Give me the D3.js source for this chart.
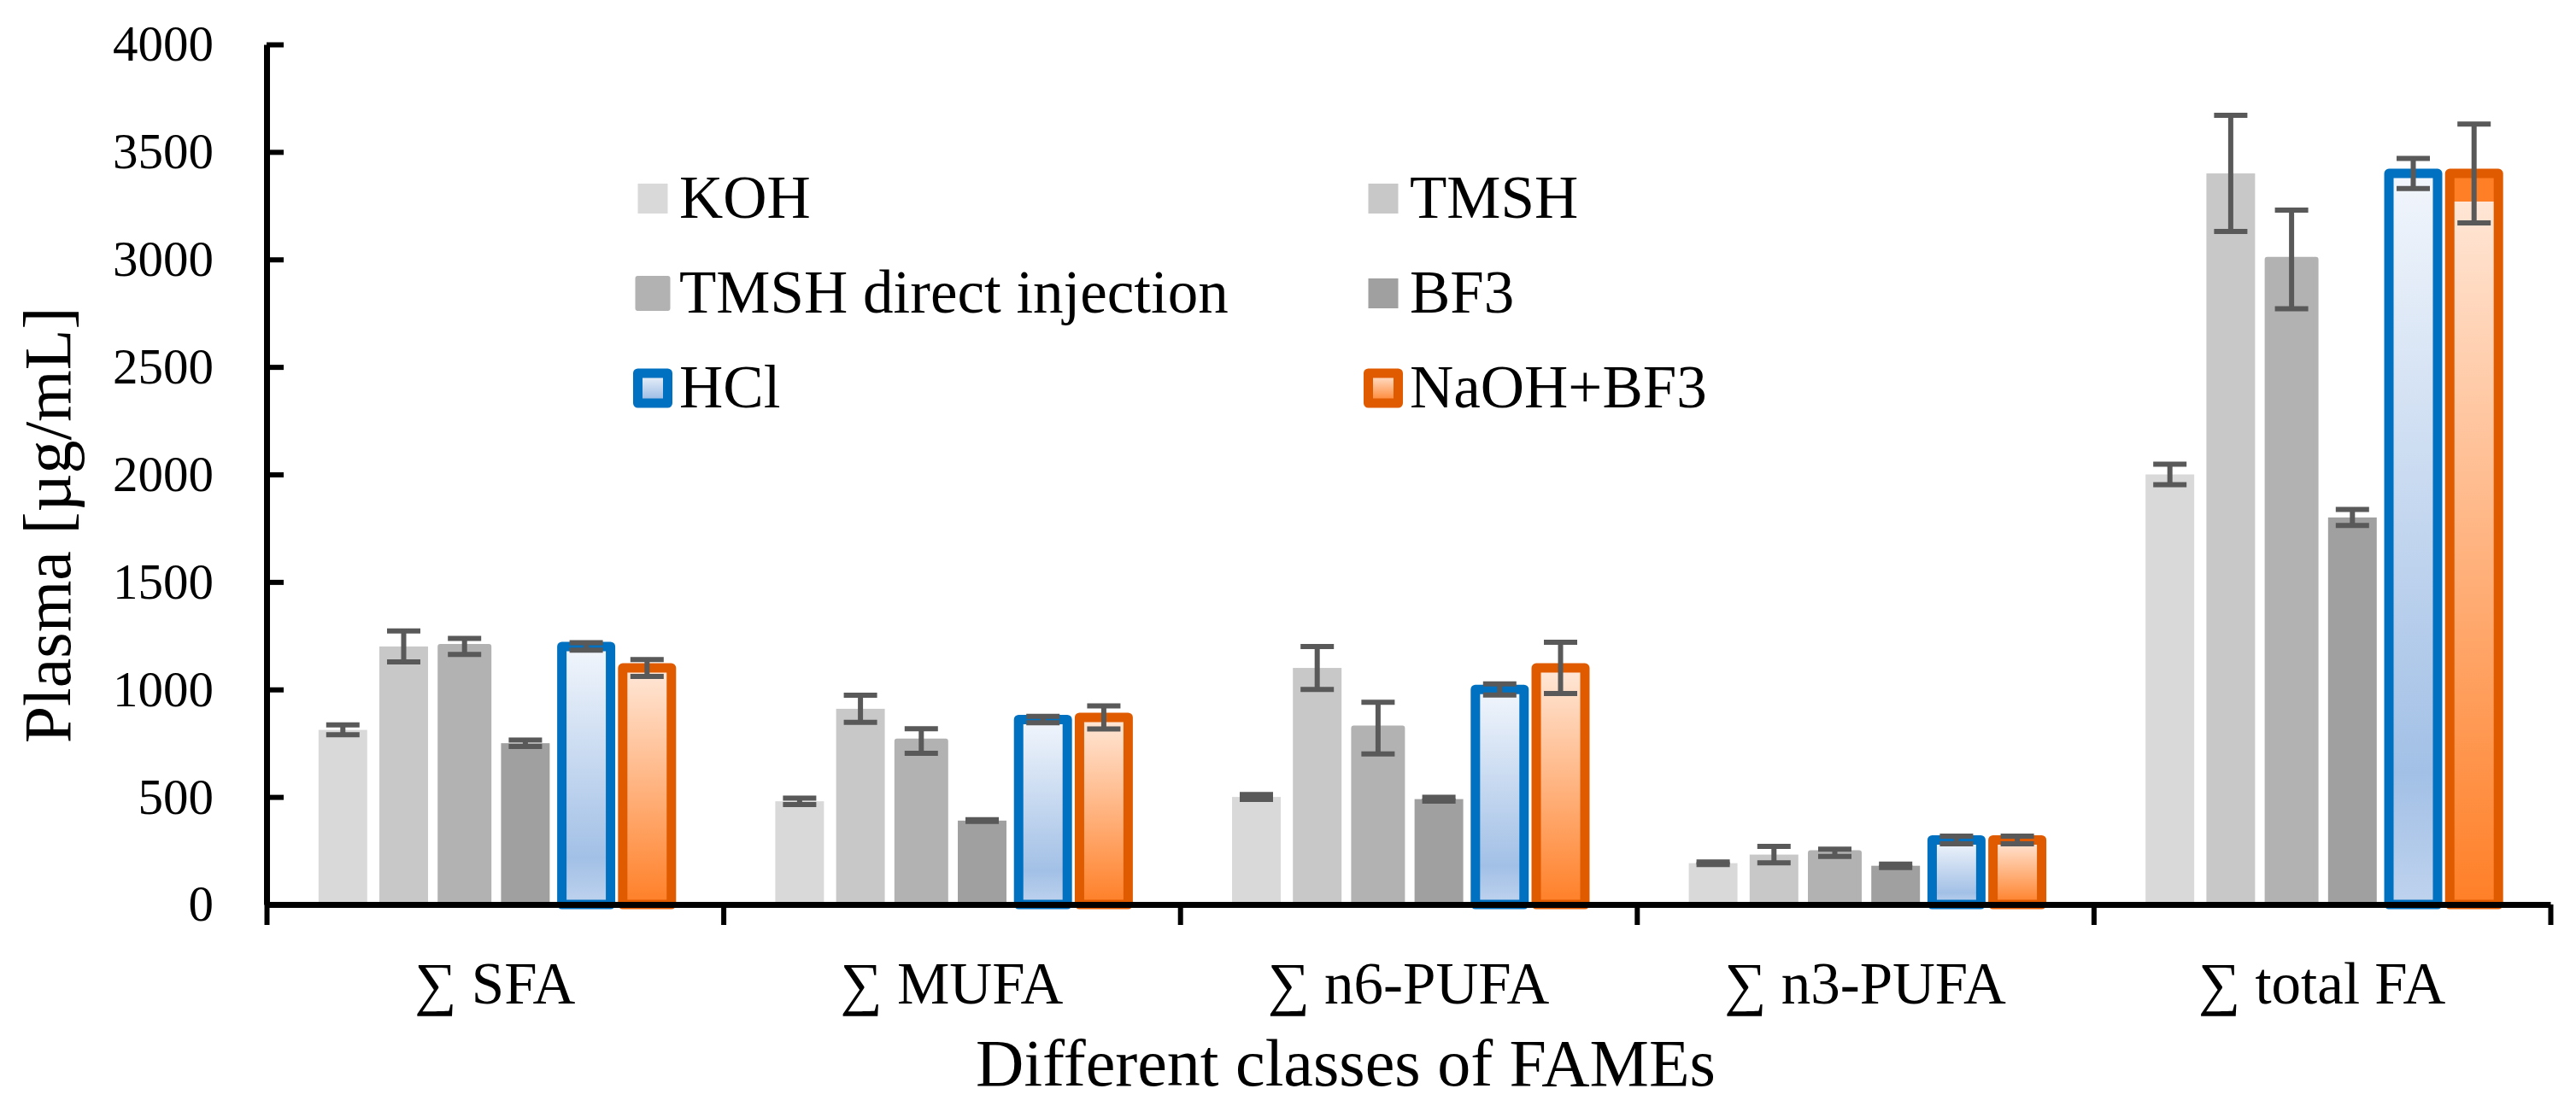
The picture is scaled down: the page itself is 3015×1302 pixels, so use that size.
<!DOCTYPE html>
<html>
<head>
<meta charset="utf-8">
<script src="https://cdn.jsdelivr.net/npm/d3@7"></script>
<style>
  body { margin: 0; background: #fff; }
  text { font-family: "Liberation Serif", "Times New Roman", serif; fill: #000; }
</style>
</head>
<body>
<div id="plot"></div>
<script>
// data
const categories = ["∑ SFA", "∑ MUFA", "∑ n6-PUFA", "∑ n3-PUFA", "∑ total FA"];
const methods = ["KOH", "TMSH", "TMSH direct injection", "BF3", "HCl", "NaOH+BF3"];

const kohValues = [812, 480, 500, 192, 2000];
const kohErrors = [23, 15, 11, 6, 48];
const tmshValues = [1200, 910, 1100, 232, 3400];
const tmshErrors = [72, 63, 100, 38, 270];
const tmshDirectValues = [1200, 760, 820, 240, 3000];
const tmshDirectErrors = [37, 57, 120, 17, 229];
const bf3Values = [750, 390, 490, 180, 1800];
const bf3Errors = [15, 4, 9, 8, 37];
const hclValues = [1200, 860, 1000, 300, 3400];
const hclErrors = [17, 15, 26, 18, 70];
const naohValues = [1100, 870, 1100, 300, 3400];
const naohErrors = [39, 54, 119, 18, 230];

const yTicks = [0, 500, 1000, 1500, 2000, 2500, 3000, 3500, 4000];

const seriesValues = [kohValues, tmshValues, tmshDirectValues, bf3Values, hclValues, naohValues];
const seriesErrors = [kohErrors, tmshErrors, tmshDirectErrors, bf3Errors, hclErrors, naohErrors];

// setup plot
const width = 3015,
  height = 1302;
const plotLeft = 312,
  plotRight = 2985,
  plotTop = 52,
  plotBottom = 1059;

const styles = {
  KOH: { fill: "#d9d9d9", stroke: "none", sw: 0 },
  TMSH: { fill: "#c8c8c8", stroke: "none", sw: 0 },
  "TMSH direct injection": { fill: "#b2b2b2", stroke: "#b2b2b2", sw: 6 },
  BF3: { fill: "#a0a0a0", stroke: "none", sw: 0 },
  HCl: { fill: "url(#blueGrad)", stroke: "#0070c0", sw: 11 },
  "NaOH+BF3": { fill: "url(#orangeGrad)", stroke: "#e05a00", sw: 11 },
};

const svg = d3.select("#plot").append("svg").attr("width", width).attr("height", height);

const defs = svg.append("defs");
const addGrad = (id, stops) => {
  const g = defs.append("linearGradient").attr("id", id).attr("x1", 0).attr("y1", 0).attr("x2", 0).attr("y2", 1);
  stops.forEach(([o, c]) => g.append("stop").attr("offset", o).attr("stop-color", c));
};
addGrad("blueGrad", [[0, "#f2f6fc"], [0.82, "#a2c0e6"], [1, "#bfd3ee"]]);
addGrad("orangeGrad", [[0, "#ffe8d9"], [1, "#ff7f27"]]);
// the total FA bar of NaOH+BF3 has a solid strip on top in the original
addGrad("orangeGradTop", [[0, "#ff7f27"], [0.038, "#ff7f27"], [0.038, "#ffe6d6"], [1, "#ff7f27"]]);

const x0 = d3.scaleBand().domain(categories).range([plotLeft, plotRight]);
const x1 = d3.scaleBand().domain(methods).range([0, x0.bandwidth()]).paddingInner(0.2).paddingOuter(0.854);
const y = d3.scaleLinear().domain([0, 4000]).range([plotBottom, plotTop]);

const rows = categories.flatMap((c, i) =>
  methods.map((m, j) => ({ c, m, v: seriesValues[j][i], e: seriesErrors[j][i], last: i === categories.length - 1 }))
);

// bars
svg
  .append("g")
  .selectAll("rect")
  .data(rows)
  .join("rect")
  .attr("x", (d) => x0(d.c) + x1(d.m))
  .attr("y", (d) => y(d.v))
  .attr("width", x1.bandwidth())
  .attr("height", (d) => y(0) - y(d.v))
  .attr("fill", (d) => (d.m === "NaOH+BF3" && d.last ? "url(#orangeGradTop)" : styles[d.m].fill))
  .attr("stroke", (d) => styles[d.m].stroke)
  .attr("stroke-width", (d) => styles[d.m].sw)
  .attr("stroke-linejoin", "round");

// error bars
const err = svg.append("g").attr("stroke", "#595959").attr("stroke-width", 6);
const cx = (d) => x0(d.c) + x1(d.m) + x1.bandwidth() / 2;
err
  .selectAll("line.v")
  .data(rows)
  .join("line")
  .attr("class", "v")
  .attr("x1", cx)
  .attr("x2", cx)
  .attr("y1", (d) => y(d.v + d.e))
  .attr("y2", (d) => y(d.v - d.e));
["hi", "lo"].forEach((k) => {
  err
    .selectAll("line." + k)
    .data(rows)
    .join("line")
    .attr("class", k)
    .attr("x1", (d) => cx(d) - 19.5)
    .attr("x2", (d) => cx(d) + 19.5)
    .attr("y1", (d) => y(k === "hi" ? d.v + d.e : d.v - d.e))
    .attr("y2", (d) => y(k === "hi" ? d.v + d.e : d.v - d.e));
});

// y axis
const yAxis = svg
  .append("g")
  .attr("transform", `translate(${plotLeft},0)`)
  .call(d3.axisLeft(y).tickValues(yTicks).tickFormat(d3.format("d")).tickSizeInner(-20).tickSizeOuter(0).tickPadding(62));
yAxis.select(".domain").attr("stroke", "#000").attr("stroke-width", 7);
yAxis.selectAll(".tick line").attr("stroke", "#000").attr("stroke-width", 6);
yAxis.selectAll(".tick text").attr("font-size", 59);

// x axis line with ticks between categories
const xb = d3.scaleLinear().domain([0, categories.length]).range([plotLeft, plotRight]);
const xAxis = svg
  .append("g")
  .attr("transform", `translate(0,${plotBottom})`)
  .call(d3.axisBottom(xb).tickValues(d3.range(categories.length + 1)).tickSizeInner(24).tickSizeOuter(0).tickFormat(""));
xAxis.select(".domain").attr("stroke", "#000").attr("stroke-width", 7);
xAxis.selectAll(".tick line").attr("stroke", "#000").attr("stroke-width", 6);

// category labels
const xLabels = svg.append("g").attr("transform", `translate(0,${plotBottom})`).call(d3.axisBottom(x0).tickSize(0).tickPadding(67));
xLabels.select(".domain").remove();
xLabels.selectAll(".tick text").attr("font-size", 69);

// titles
svg.append("text").attr("x", 1575).attr("y", 1271).attr("text-anchor", "middle").attr("font-size", 78).text("Different classes of FAMEs");
svg
  .append("text")
  .attr("transform", "translate(82,615) rotate(-90)")
  .attr("text-anchor", "middle")
  .attr("font-size", 78)
  .text("Plasma [µg/mL]");

// legend
const legend = svg
  .append("g")
  .selectAll("g")
  .data(methods)
  .join("g")
  .attr("transform", (d, i) => `translate(${[764, 1619][i % 2]},${232.5 + Math.floor(i / 2) * 111})`);
legend
  .append("rect")
  .attr("x", -17.5)
  .attr("y", -17.5)
  .attr("width", 35)
  .attr("height", 35)
  .attr("fill", (d) => styles[d].fill)
  .attr("stroke", (d) => styles[d].stroke)
  .attr("stroke-width", (d) => styles[d].sw)
  .attr("stroke-linejoin", "round");
legend
  .append("text")
  .attr("x", 31)
  .attr("y", 22.5)
  .attr("font-size", 71)
  .text((d) => d);
</script>
</body>
</html>
